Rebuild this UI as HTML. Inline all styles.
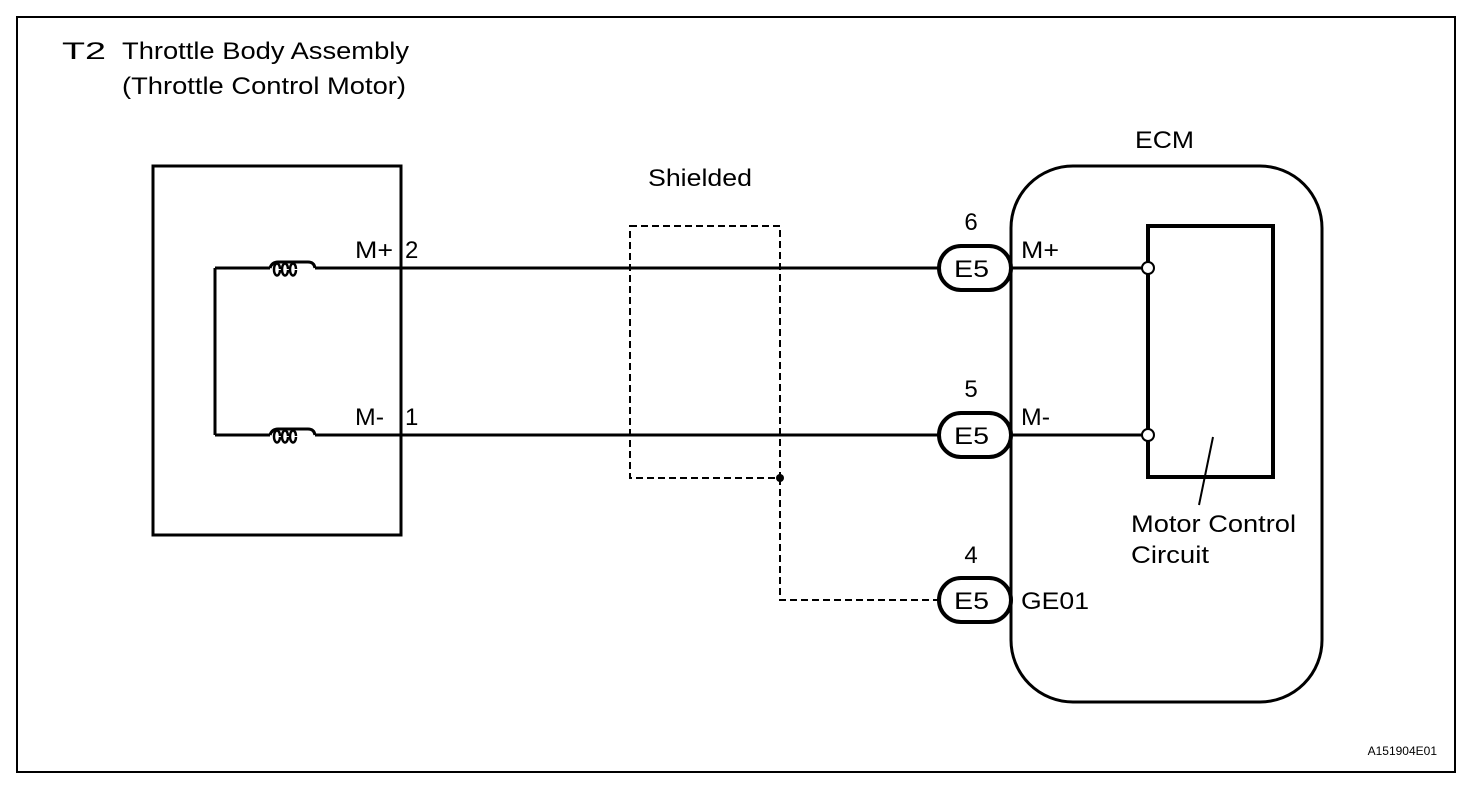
<!DOCTYPE html>
<html><head><style>
html,body{margin:0;padding:0;background:#fff;}
svg{display:block;}
text{font-family:"Liberation Sans",sans-serif;fill:#000;}
</style></head><body>
<svg width="1472" height="800" viewBox="0 0 1472 800">
<rect x="17" y="17" width="1438" height="755" fill="none" stroke="#000" stroke-width="2"/>
<text x="62" y="59" font-size="24" textLength="44" lengthAdjust="spacingAndGlyphs">T2</text>
<text x="122" y="59" font-size="24" textLength="287" lengthAdjust="spacingAndGlyphs">Throttle Body Assembly</text>
<text x="122" y="94" font-size="24" textLength="284" lengthAdjust="spacingAndGlyphs">(Throttle Control Motor)</text>
<rect x="153" y="166" width="248" height="369" fill="none" stroke="#000" stroke-width="3"/>
<g fill="none" stroke="#000" stroke-width="3">
<path d="M215 268 V435 M215 268 H270 M315 268 H938 M215 435 H270 M315 435 H938"/>
<path d="M270 268 q2 -6 8 -6 h30 q6 0 7 6"/>
<path d="M270 435 q2 -6 8 -6 h30 q6 0 7 6"/>
</g>
<g fill="none" stroke="#000" stroke-width="2.5">
<path d="M280 270 a3 6 0 1 1 0 -1 M288 270 a3 6 0 1 1 0 -1 M296 270 a3 6 0 1 1 0 -1"/>
<path d="M280 437 a3 6 0 1 1 0 -1 M288 437 a3 6 0 1 1 0 -1 M296 437 a3 6 0 1 1 0 -1"/>
</g>
<text x="355" y="258" font-size="24" textLength="38" lengthAdjust="spacingAndGlyphs">M+</text><text x="405" y="258" font-size="24">2</text>
<text x="355" y="425" font-size="24" textLength="29" lengthAdjust="spacingAndGlyphs">M-</text><text x="405" y="425" font-size="24">1</text>
<text x="648" y="186" font-size="24" textLength="104" lengthAdjust="spacingAndGlyphs">Shielded</text>
<g fill="none" stroke="#000" stroke-width="2" stroke-dasharray="7,4">
<rect x="630" y="226" width="150" height="252"/>
<path d="M780 478 V600 H938"/>
</g>
<circle cx="780" cy="478" r="4" fill="#000"/>
<rect x="1011" y="166" width="311" height="536" rx="62" fill="none" stroke="#000" stroke-width="3"/>
<text x="1135" y="148" font-size="24" textLength="59" lengthAdjust="spacingAndGlyphs">ECM</text>
<g fill="#fff" stroke="#000" stroke-width="4">
<rect x="939" y="246" width="72" height="44" rx="22"/>
<rect x="939" y="413" width="72" height="44" rx="22"/>
<rect x="939" y="578" width="72" height="44" rx="22"/>
</g>
<text x="954" y="277" font-size="24" textLength="35" lengthAdjust="spacingAndGlyphs">E5</text>
<text x="954" y="444" font-size="24" textLength="35" lengthAdjust="spacingAndGlyphs">E5</text>
<text x="954" y="609" font-size="24" textLength="35" lengthAdjust="spacingAndGlyphs">E5</text>
<text x="971" y="230" font-size="24" text-anchor="middle">6</text>
<text x="971" y="397" font-size="24" text-anchor="middle">5</text>
<text x="971" y="563" font-size="24" text-anchor="middle">4</text>
<path d="M1011 268 H1142 M1011 435 H1142" stroke="#000" stroke-width="3"/>
<text x="1021" y="258" font-size="24" textLength="38" lengthAdjust="spacingAndGlyphs">M+</text>
<text x="1021" y="425" font-size="24" textLength="29" lengthAdjust="spacingAndGlyphs">M-</text>
<text x="1021" y="609" font-size="24" textLength="68" lengthAdjust="spacingAndGlyphs">GE01</text>
<rect x="1148" y="226" width="125" height="251" fill="none" stroke="#000" stroke-width="4"/>
<circle cx="1148" cy="268" r="6" fill="#fff" stroke="#000" stroke-width="2"/>
<circle cx="1148" cy="435" r="6" fill="#fff" stroke="#000" stroke-width="2"/>
<path d="M1213 437 L1199 505" stroke="#000" stroke-width="2"/>
<text x="1131" y="532" font-size="24" textLength="165" lengthAdjust="spacingAndGlyphs">Motor Control</text>
<text x="1131" y="563" font-size="24" textLength="78" lengthAdjust="spacingAndGlyphs">Circuit</text>
<text x="1437" y="755" font-size="12" text-anchor="end">A151904E01</text>
</svg>
</body></html>
